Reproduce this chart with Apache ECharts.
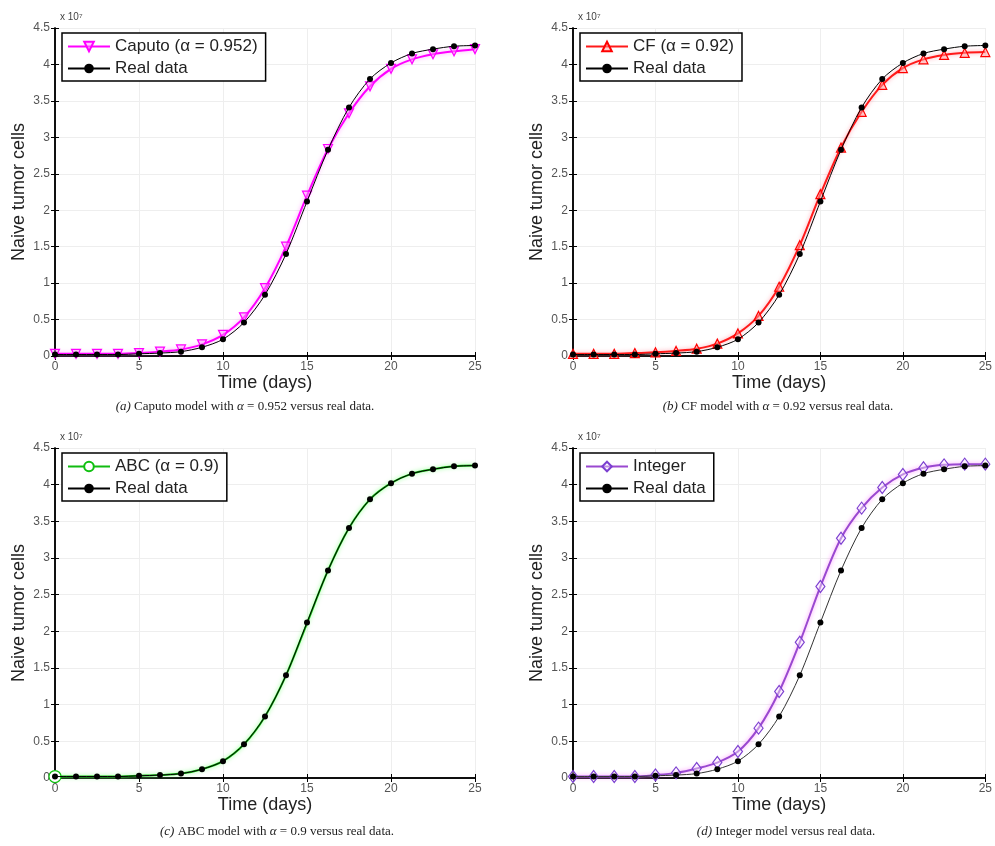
<!DOCTYPE html>
<html>
<head>
<meta charset="utf-8">
<script src="https://cdn.jsdelivr.net/npm/echarts@6/dist/echarts.min.js"></script>
<style>
html, body { margin: 0; padding: 0; background: #fff; }
#chart { width: 995px; height: 846px; }
</style>
</head>
<body>
<div id="chart"></div>
<script>
// time grid (days)
const time = [0, 1.25, 2.5, 3.75, 5, 6.25, 7.5, 8.75, 10, 11.25, 12.5, 13.75, 15, 16.25, 17.5, 18.75, 20, 21.25, 22.5, 23.75, 25];
// naive tumor cells, x 10^7
const realData = [0.02, 0.02, 0.02, 0.02, 0.03, 0.04, 0.06, 0.12, 0.23, 0.46, 0.84, 1.40, 2.12, 2.83, 3.41, 3.80, 4.02, 4.15, 4.21, 4.25, 4.26];
const caputoData = [0.03, 0.03, 0.03, 0.03, 0.04, 0.06, 0.09, 0.16, 0.29, 0.53, 0.93, 1.50, 2.20, 2.84, 3.33, 3.70, 3.94, 4.07, 4.14, 4.18, 4.21];
const cfData = [0.03, 0.03, 0.03, 0.04, 0.05, 0.07, 0.10, 0.17, 0.31, 0.55, 0.95, 1.52, 2.22, 2.86, 3.35, 3.72, 3.95, 4.07, 4.13, 4.16, 4.17];
const abcData = [0.02, 0.02, 0.02, 0.02, 0.03, 0.04, 0.06, 0.12, 0.23, 0.46, 0.84, 1.40, 2.11, 2.83, 3.41, 3.80, 4.02, 4.15, 4.21, 4.25, 4.26];
const integerData = [0.02, 0.02, 0.02, 0.02, 0.04, 0.07, 0.13, 0.21, 0.36, 0.68, 1.18, 1.85, 2.61, 3.27, 3.68, 3.96, 4.14, 4.23, 4.27, 4.28, 4.28];

const modelNames = ["Caputo (\u03b1 = 0.952)", "CF (\u03b1 = 0.92)", "ABC (\u03b1 = 0.9)", "Integer"];
const captions = [
  "{i|(a)} Caputo model with {i|\u03b1} = 0.952 versus real data.",
  "{i|(b)} CF model with {i|\u03b1} = 0.92 versus real data.",
  "{i|(c)} ABC model with {i|\u03b1} = 0.9 versus real data.",
  "{i|(d)} Integer model versus real data."
];

const panels = [
  { left: 55, top: 28, width: 420, height: 328, capX: 245, capY: 407 },
  { left: 573, top: 28, width: 417, height: 328, capX: 778, capY: 407 },
  { left: 55, top: 448, width: 420, height: 330, capX: 277, capY: 832 },
  { left: 573, top: 448, width: 417, height: 330, capX: 786, capY: 832 }
];

const modelStyles = [
  { data: caputoData, line: "#ff00ff", halo: "rgba(255,120,255,0.7)", symbol: "triangle", rotate: 180, size: 9, fill: "rgba(255,150,255,0.5)", border: "#ff00ff" },
  { data: cfData, line: "#ff1a1a", halo: "rgba(255,120,140,0.7)", symbol: "triangle", rotate: 0, size: 9, fill: "rgba(255,160,160,0.5)", border: "#ff0000" },
  { data: abcData, line: "#11bb11", halo: "rgba(120,255,120,0.8)", symbol: "circle", rotate: 0, size: 12, fill: "#ffffff", border: "#10c010", firstOnly: true },
  { data: integerData, line: "#9a48d0", halo: "rgba(255,120,255,0.8)", symbol: "diamond", rotate: 0, size: [9, 12], fill: "rgba(255,255,255,0.4)", border: "#7b3fd0" }
];

const font = "Liberation Sans, Arial, sans-serif";
const grid = [], xAxis = [], yAxis = [], series = [], legend = [], graphic = [];

panels.forEach((p, i) => {
  grid.push({ left: p.left, top: p.top, width: p.width, height: p.height });
  const tick = { inside: true, length: 4, lineStyle: { color: "#000" } };
  const line = { show: true, lineStyle: { color: "#000", width: 1.5 } };
  xAxis.push({
    gridIndex: i, type: "value", min: 0, max: 25, interval: 5, position: "bottom",
    axisLine: line, axisTick: tick,
    axisLabel: { color: "#555", fontSize: 12, margin: 5, fontFamily: font },
    splitLine: { show: true, lineStyle: { color: "#eeeeee" } },
    name: "Time (days)", nameLocation: "middle", nameGap: 18,
    nameTextStyle: { color: "#222", fontSize: 18, fontFamily: font }
  });
  xAxis.push({
    gridIndex: i, type: "value", min: 0, max: 25, interval: 5, position: "top",
    axisLine: line, axisTick: tick, axisLabel: { show: false }, splitLine: { show: false }
  });
  yAxis.push({
    gridIndex: i, type: "value", min: 0, max: 4.5, interval: 0.5, position: "left",
    axisLine: line, axisTick: tick,
    axisLabel: { color: "#555", fontSize: 12, margin: 5, fontFamily: font },
    splitLine: { show: true, lineStyle: { color: "#eeeeee" } },
    name: "Naive tumor cells", nameLocation: "middle", nameGap: 27, nameRotate: 90,
    nameTextStyle: { color: "#222", fontSize: 18, fontFamily: font }
  });
  yAxis.push({
    gridIndex: i, type: "value", min: 0, max: 4.5, interval: 0.5, position: "right",
    axisLine: line, axisTick: tick, axisLabel: { show: false }, splitLine: { show: false }
  });

  const m = modelStyles[i];
  series.push({
    name: modelNames[i], type: "line", xAxisIndex: 2 * i, yAxisIndex: 2 * i,
    smooth: 0.3, clip: false,
    symbol: m.symbol, symbolSize: m.size, symbolRotate: m.rotate, showSymbol: true,
    lineStyle: { color: m.line, width: 2, shadowColor: m.halo, shadowBlur: 4 },
    itemStyle: { color: m.fill, borderColor: m.border, borderWidth: 1.2 },
    data: time.map((t, k) => {
      const d = { value: [t, m.data[k]] };
      if (m.firstOnly && k > 0) d.symbol = "none";
      return d;
    }),
    z: 3
  });
  series.push({
    name: "Real data", type: "line", xAxisIndex: 2 * i, yAxisIndex: 2 * i,
    smooth: 0.3, clip: false,
    symbol: "circle", symbolSize: 6, showSymbol: true,
    lineStyle: { color: i === 3 ? "#333" : "#000", width: 1 },
    itemStyle: { color: "#000" },
    data: time.map((t, k) => [t, realData[k]]),
    z: 4
  });

  legend.push({
    data: [modelNames[i], "Real data"],
    orient: "vertical", left: p.left + 7, top: p.top + 5,
    backgroundColor: "#fff", borderColor: "#000", borderWidth: 1.5,
    padding: [5, 8, 4, 5], itemGap: 5, itemWidth: 42, itemHeight: 12,
    selectedMode: false,
    textStyle: { color: "#222", fontSize: 17, fontFamily: font },
    z: 10
  });

  graphic.push({
    type: "text", left: p.left + 5, top: p.top - 16,
    style: { text: "x 10\u2077", fill: "#444", font: "10px " + font }
  });
  graphic.push({
    type: "text", x: p.capX, y: p.capY,
    style: {
      text: captions[i], fill: "#222", align: "center", verticalAlign: "middle",
      font: "13px 'Liberation Serif', 'Times New Roman', serif",
      rich: { i: { fontStyle: "italic", font: "italic 13px 'Liberation Serif', serif", fill: "#222" } }
    }
  });
});

const myChart = echarts.init(document.getElementById("chart"));
myChart.setOption({
  backgroundColor: "#fff",
  animation: false,
  grid: grid,
  xAxis: xAxis,
  yAxis: yAxis,
  legend: legend,
  graphic: graphic,
  series: series
});
</script>
</body>
</html>
